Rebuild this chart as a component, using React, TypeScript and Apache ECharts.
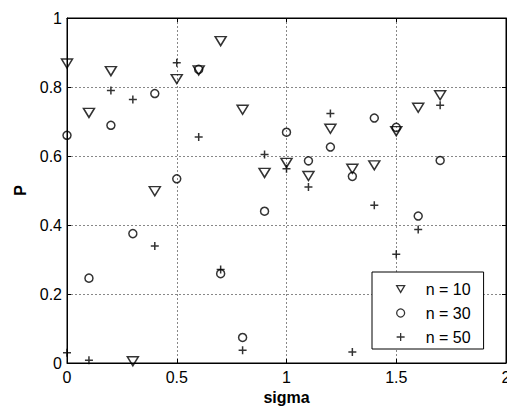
import React, { useEffect, useRef } from "react";
import * as echarts from "echarts";

const sigma = [0, 0.1, 0.2, 0.3, 0.4, 0.5, 0.6, 0.7, 0.8, 0.9, 1.0, 1.1, 1.2, 1.3, 1.4, 1.5, 1.6, 1.7];
const p10 = [0.868, 0.725, 0.846, 0.005, 0.498, 0.823, 0.848, 0.933, 0.734, 0.551, 0.58, 0.542, 0.679, 0.563, 0.573, 0.672, 0.74, 0.776];
const p30 = [0.66, 0.246, 0.689, 0.375, 0.781, 0.534, 0.851, 0.259, 0.074, 0.44, 0.669, 0.586, 0.626, 0.541, 0.71, 0.683, 0.426, 0.587];
const p50 = [0.03, 0.008, 0.79, 0.764, 0.339, 0.87, 0.655, 0.271, 0.037, 0.604, 0.563, 0.51, 0.723, 0.032, 0.457, 0.315, 0.387, 0.747];
const seriesNames = ["n = 10", "n = 30", "n = 50"];

const FONT = "Liberation Sans, Arial, sans-serif";
const TRI_DOWN = "path://M0,0L10,0L5,8.5Z";
const PLUS = "path://M0,5L10,5M5,0L5,10";

export default function App() {
  const ref = useRef<HTMLDivElement>(null);
  useEffect(() => {
    if (!ref.current) return;
    const chart = echarts.init(ref.current, null, { renderer: "svg" });
    const toPts = (ys: number[]) => sigma.map((x, i) => [x, ys[i]]);
    const markerStyle = { color: "transparent", borderColor: "#000", borderWidth: 1.5 };
    const gridLine = { show: true, lineStyle: { color: "#888", type: [2, 2] as any, width: 1 } };
    chart.setOption({
      animation: false,
      backgroundColor: "#fff",
      grid: {
        left: 67, right: 1, top: 18, bottom: 46, show: true,
        borderColor: "#000", borderWidth: 1,
        outerBoundsMode: "none", containLabel: false,
      },
      xAxis: [
        {
          type: "value", min: 0, max: 2, interval: 0.5,
          name: "sigma", nameLocation: "middle", nameGap: 23,
          nameTextStyle: { fontFamily: FONT, fontSize: 16, fontWeight: "bold", color: "#000" },
          axisLine: { show: true, onZero: false, lineStyle: { color: "#000" } },
          axisTick: { show: true, inside: true, length: 4, lineStyle: { color: "#000" } },
          axisLabel: { fontFamily: FONT, fontSize: 16, color: "#000", margin: 6 },
          splitLine: gridLine,
        },
        {
          type: "value", min: 0, max: 2, interval: 0.5, position: "top",
          axisLine: { show: true, onZero: false, lineStyle: { color: "#000" } },
          axisTick: { show: true, inside: true, length: 4, lineStyle: { color: "#000" } },
          axisLabel: { show: false }, splitLine: { show: false },
        },
      ],
      yAxis: [
        {
          type: "value", min: 0, max: 1, interval: 0.2,
          name: "P", nameLocation: "middle", nameGap: 39, nameRotate: 90,
          nameTextStyle: { fontFamily: FONT, fontSize: 16, fontWeight: "bold", color: "#000" },
          axisLine: { show: true, onZero: false, lineStyle: { color: "#000" } },
          axisTick: { show: true, inside: true, length: 4, lineStyle: { color: "#000" } },
          axisLabel: { fontFamily: FONT, fontSize: 16, color: "#000", margin: 5 },
          splitLine: gridLine,
        },
        {
          type: "value", min: 0, max: 1, interval: 0.2, position: "right",
          axisLine: { show: true, onZero: false, lineStyle: { color: "#000" } },
          axisTick: { show: true, inside: true, length: 4, lineStyle: { color: "#000" } },
          axisLabel: { show: false }, splitLine: { show: false },
        },
      ],
      legend: {
        left: 372, top: 272, orient: "vertical",
        padding: [9, 13, 4, 24],
        itemWidth: 8, itemHeight: 8, itemGap: 8,
        borderColor: "#000", borderWidth: 1, backgroundColor: "#fff",
        itemStyle: { color: "#fff", borderColor: "#000", borderWidth: 1.3 },
        textStyle: { fontFamily: FONT, fontSize: 16, color: "#000", lineHeight: 16, padding: [0, 0, 0, 16] },
        data: [
          { name: seriesNames[0], icon: TRI_DOWN },
          { name: seriesNames[1], icon: "circle" },
          { name: seriesNames[2], icon: PLUS },
        ],
      },
      series: [
        {
          name: seriesNames[0], type: "scatter", data: toPts(p10),
          symbol: TRI_DOWN, symbolSize: [11, 9],
          itemStyle: markerStyle,
        },
        {
          name: seriesNames[1], type: "scatter", data: toPts(p30),
          symbol: "circle", symbolSize: 8,
          itemStyle: markerStyle,
        },
        {
          name: seriesNames[2], type: "scatter", data: toPts(p50),
          symbol: PLUS, symbolSize: 8,
          itemStyle: markerStyle,
        },
      ],
    });
    return () => chart.dispose();
  }, []);
  return <div ref={ref} style={{ width: 507, height: 409, position: "absolute", left: 0, top: 0 }} />;
}
